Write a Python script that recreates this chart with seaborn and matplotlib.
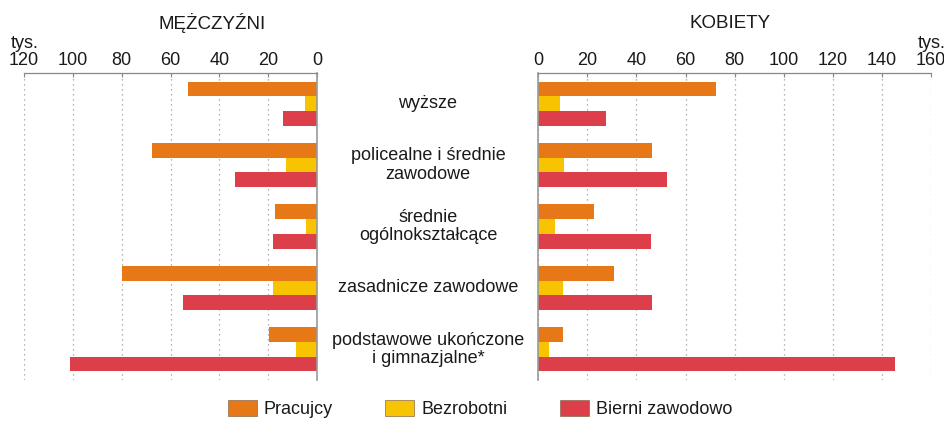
import numpy as np
import pandas as pd
import matplotlib
matplotlib.use("Agg")
import matplotlib.pyplot as plt
import seaborn as sns
from matplotlib.transforms import blended_transform_factory
from matplotlib.patches import Patch

categories = ["wyższe", "policealne i średnie\nzawodowe", "średnie\nogólnokształcące",
              "zasadnicze zawodowe", "podstawowe ukończone\ni gimnazjalne*"]
series = ["Pracujcy", "Bezrobotni", "Bierni zawodowo"]
men_pracujacy = [53, 67.5, 17, 80, 19.5]
men_bezrobotni = [5, 12.5, 4.5, 18, 8.5]
men_bierni = [14, 33.5, 18, 55, 101]
women_pracujacy = [72.5, 46.5, 22.5, 31, 10]
women_bezrobotni = [9, 10.5, 7, 10, 4.5]
women_bierni = [27.5, 52.5, 46, 46.5, 145.5]
men_ticks = [120, 100, 80, 60, 40, 20, 0]
women_ticks = [0, 20, 40, 60, 80, 100, 120, 140, 160]
colors = ["#E67817", "#F8C300", "#DD3F4A"]


def long_df(a, b, c):
    rows = []
    for vals, s in zip([a, b, c], series):
        for cat, v in zip(categories, vals):
            rows.append({"cat": cat, "status": s, "value": v})
    return pd.DataFrame(rows)


df_m = long_df(men_pracujacy, men_bezrobotni, men_bierni)
df_w = long_df(women_pracujacy, women_bezrobotni, women_bierni)

sns.set_theme(style="white")
plt.rcParams["font.family"] = ["Liberation Sans", "DejaVu Sans"]
TXT = "#1a1a1a"

W, H = 945, 421
fig = plt.figure(figsize=(W / 100, H / 100), dpi=100)
top = 73
bot = 380
axL = fig.add_axes([24 / W, (H - bot) / H, (317 - 24) / W, (bot - top) / H])
axR = fig.add_axes([538.3 / W, (H - bot) / H, (931 - 538.3) / W, (bot - top) / H])

for ax, df, lim, ticks in [(axL, df_m, (120, 0), men_ticks), (axR, df_w, (0, 160), women_ticks)]:
    sns.barplot(data=df, y="cat", x="value", hue="status", hue_order=series,
                palette=colors, orient="h", width=0.72, ax=ax, legend=False,
                edgecolor="none", linewidth=0, saturation=1)
    ax.set_xlim(*lim)
    ax.set_xticks(ticks)
    ax.set_xticklabels([str(t) for t in ticks])
    ax.xaxis.set_ticks_position("top")
    ax.xaxis.set_label_position("top")
    ax.tick_params(axis="x", direction="in", length=3, width=0.8, color="#888888",
                   labelsize=13, pad=3, labelcolor=TXT)
    ax.tick_params(axis="y", left=False, right=False, labelleft=False, labelright=False)
    ax.set_xlabel("")
    ax.set_ylabel("")
    for t in ticks:
        ax.axvline(t, color="#9a9a9a", linestyle=(0, (1, 3)), linewidth=0.9, zorder=0)
    ax.spines["bottom"].set_visible(False)
    ax.spines["top"].set_color("#888888")
    ax.spines["top"].set_linewidth(0.9)
    ax.set_facecolor("white")

axL.spines["left"].set_visible(False)
axL.spines["right"].set_color("#999999")
axL.spines["right"].set_linewidth(1.2)
axR.spines["right"].set_visible(False)
axR.spines["left"].set_color("#999999")
axR.spines["left"].set_linewidth(1.2)

fig.text(212 / W, 1 - 23 / H, "MĘŻCZYŹNI", ha="center", va="center", fontsize=13.5, color=TXT)
fig.text(730 / W, 1 - 23 / H, "KOBIETY", ha="center", va="center", fontsize=13.5, color=TXT)
fig.text(11 / W, 1 - 43 / H, "tys.", ha="left", va="center", fontsize=13, color=TXT)
fig.text(946 / W, 1 - 43 / H, "tys.", ha="right", va="center", fontsize=13, color=TXT)

tr = blended_transform_factory(fig.transFigure, axL.transData)
for i, cat in enumerate(categories):
    axL.text(428 / W, i, cat, transform=tr, ha="center", va="center", fontsize=13,
             color=TXT, linespacing=1.1, clip_on=False)

handles = [Patch(facecolor=c, edgecolor="#8a6a50", linewidth=0.5) for c in colors]
fig.legend(handles, series, loc="center", bbox_to_anchor=(480 / W, 1 - 409 / H), ncol=3,
           frameon=False, fontsize=13, handlelength=1.6, handleheight=0.95,
           columnspacing=2.9, handletextpad=0.4, labelcolor=TXT)

fig.savefig("out.png", dpi=100, facecolor="white")
